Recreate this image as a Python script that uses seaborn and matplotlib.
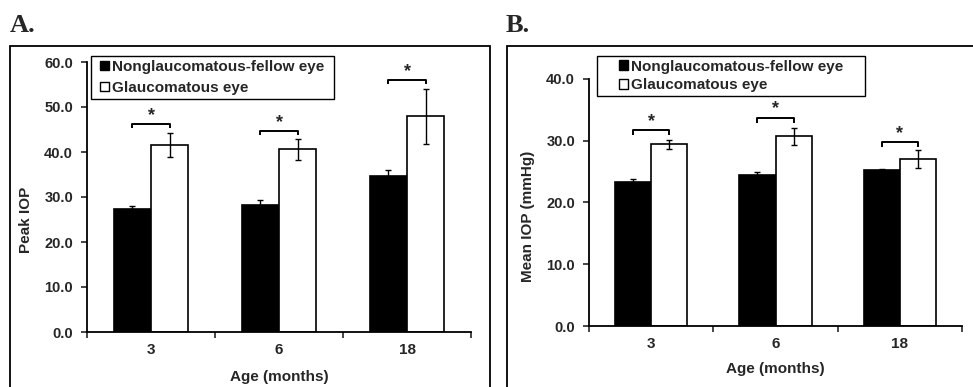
import matplotlib
matplotlib.use("Agg")
import matplotlib.pyplot as plt
import matplotlib.patches as mpatches
import seaborn as sns
import pandas as pd

sns.set_style("white")
plt.rcParams['font.family'] = ['Liberation Sans', 'DejaVu Sans']

# data
ages = ["3", "6", "18"]
groups = ["Nonglaucomatous-fellow eye", "Glaucomatous eye"]

peak_fellow = [27.3, 28.3, 34.6]
peak_fellow_err = [0.6, 1.1, 1.5]
peak_glauc = [41.6, 40.6, 47.9]
peak_glauc_err = [2.7, 2.3, 6.2]
peak_bracket = [46.2, 44.7, 56.0]

mean_fellow = [23.3, 24.5, 25.3]
mean_fellow_err = [0.4, 0.35, 0.15]
mean_glauc = [29.4, 30.7, 27.0]
mean_glauc_err = [0.7, 1.4, 1.4]
mean_bracket = [31.7, 33.7, 29.8]


def make_df(a, b):
    return pd.DataFrame({
        "age": ages * 2,
        "eye": [groups[0]] * 3 + [groups[1]] * 3,
        "value": list(a) + list(b),
    })


def draw_panel(ax, df, errs, brackets, ymax, ystep, ylabel, leg_box,
               leg_space, leg_len, star_off, ylab_xy, xlab_y):
    sns.barplot(data=df, x="age", y="value", hue="eye", order=ages,
                hue_order=groups, palette=["black", "white"],
                edgecolor="black", linewidth=1.2, width=0.58,
                errorbar=None, ax=ax)
    centers = []
    for cont, err in zip(ax.containers, errs):
        xs = [p.get_x() + p.get_width() / 2 for p in cont]
        ys = [p.get_height() for p in cont]
        ax.errorbar(xs, ys, yerr=err, fmt="none", ecolor="black",
                    elinewidth=1.0, capsize=2.5, capthick=1.0)
        centers.append(xs)
    # significance brackets
    for x0, x1, yb in zip(centers[0], centers[1], brackets):
        ax.plot([x0, x0, x1, x1], [yb - leg_len, yb, yb, yb - leg_len],
                color="black", lw=1.4, solid_capstyle="butt")
        ax.text((x0 + x1) / 2, yb + star_off, "*", ha="center", va="center",
                fontsize=13, fontweight="bold")

    ax.set_ylim(0, ymax)
    ax.set_yticks([i * ystep for i in range(int(round(ymax / ystep)) + 1)])
    ax.set_yticklabels([f"{v:.1f}" for v in ax.get_yticks()],
                       fontsize=10.5, fontweight="bold")
    ax.set_xlim(-0.5, 2.5)
    ax.set_xticks([-0.5, 0.5, 1.5, 2.5])
    ax.set_xticklabels([])
    ax.set_xticks([0, 1, 2], minor=True)
    ax.set_xticklabels(ages, minor=True, fontsize=11, fontweight="bold")
    ax.tick_params(axis="x", which="major", direction="out", length=4,
                   width=1.2, bottom=True)
    ax.tick_params(axis="x", which="minor", length=0, pad=8)
    ax.tick_params(axis="y", direction="out", length=4, width=1.2, left=True,
                   pad=6)
    for s in ["top", "right"]:
        ax.spines[s].set_visible(False)
    for s in ["left", "bottom"]:
        ax.spines[s].set_linewidth(1.3)
        ax.spines[s].set_color("black")

    ax.set_ylabel(ylabel, fontsize=11, fontweight="bold")
    ax.yaxis.set_label_coords(*ylab_xy)
    ax.set_xlabel("Age (months)", fontsize=11, fontweight="bold")
    ax.xaxis.set_label_coords(0.5, xlab_y)

    # legend: frame drawn as its own box, entries centred inside it
    x0, y0, x1, y1 = leg_box
    ax.add_patch(mpatches.Rectangle((x0, y0), x1 - x0, y1 - y0,
                                    transform=ax.transAxes, fill=False,
                                    edgecolor="black", lw=1.0,
                                    clip_on=False, zorder=5))
    handles = [mpatches.Patch(facecolor="black", edgecolor="black", lw=1),
               mpatches.Patch(facecolor="white", edgecolor="black", lw=1)]
    ax.legend(handles, groups, loc="center",
              bbox_to_anchor=((x0 + x1) / 2, (y0 + y1) / 2),
              borderaxespad=0, frameon=False,
              handlelength=0.6, handleheight=0.6, handletextpad=0.2,
              labelspacing=leg_space, borderpad=0.0,
              prop={"weight": "bold", "size": 11})


fig = plt.figure(figsize=(9.73, 3.87), dpi=100, facecolor="w")
W, H = 973, 387

axA = fig.add_axes([87 / W, 55 / H, 384 / W, 270 / H])
axB = fig.add_axes([589 / W, 61 / H, 373 / W, 247.3 / H])

draw_panel(axA, make_df(peak_fellow, peak_glauc),
           [peak_fellow_err, peak_glauc_err], peak_bracket, 60, 10,
           "Peak IOP", (0.010, 0.863, 0.643, 1.023), 0.45, 0.9, 1.9,
           (-0.14, 0.417), -0.141)
draw_panel(axB, make_df(mean_fellow, mean_glauc),
           [mean_fellow_err, mean_glauc_err], mean_bracket, 40, 10,
           "Mean IOP (mmHg)", (0.021, 0.931, 0.740, 1.092), 0.3, 0.8, 1.4,
           (-0.145, 0.445), -0.146)

# outer panel frames
fig.patches.append(mpatches.Rectangle((10 / W, -0.1), 480 / W,
                                      (H - 45.7) / H + 0.1,
                                      transform=fig.transFigure, fill=False,
                                      edgecolor="black", lw=1.3))
fig.patches.append(mpatches.Rectangle((507 / W, -0.1), 0.6,
                                      (H - 45.7) / H + 0.1,
                                      transform=fig.transFigure, fill=False,
                                      edgecolor="black", lw=1.3))

fig.text(10 / W, 1 - 32 / H, "A.", fontsize=19, fontweight="bold",
         family=["Liberation Serif", "DejaVu Serif"], va="baseline")
fig.text(506 / W, 1 - 32 / H, "B.", fontsize=19, fontweight="bold",
         family=["Liberation Serif", "DejaVu Serif"], va="baseline")

plt.savefig("out.png", dpi=100)
